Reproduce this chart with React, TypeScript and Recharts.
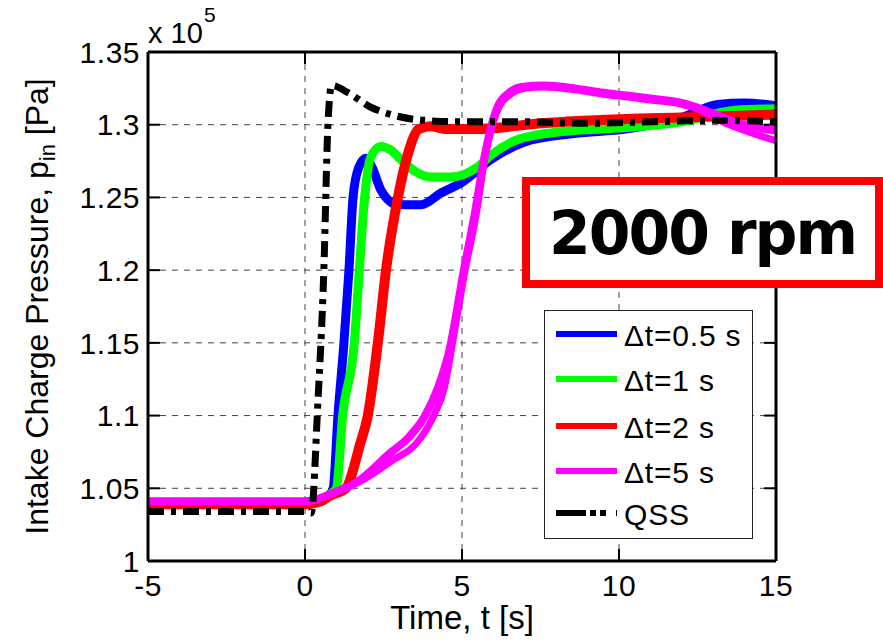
import React from "react";
import { LineChart, Line, XAxis, YAxis, CartesianGrid, ReferenceLine } from "recharts";

// time [s], pressure [x1e5 Pa]
const blueRun: [number, number][] = [
  [-5, 1.039], [-2, 1.039], [0, 1.039], [0.5, 1.041], [0.8, 1.046], [0.9, 1.05], [1.05, 1.1], [1.24, 1.15],
  [1.4, 1.2], [1.53, 1.25], [1.7, 1.27], [1.94, 1.277], [2.15, 1.27], [2.42, 1.255], [2.96, 1.245],
  [3.7, 1.245], [4.33, 1.253], [4.97, 1.26], [5.92, 1.276], [6.97, 1.288], [8.57, 1.294], [10.2, 1.297],
  [11, 1.3], [12, 1.305], [13.15, 1.314], [14, 1.315], [15, 1.313],
];
const greenRun: [number, number][] = [
  [-5, 1.04], [0, 1.04], [0.5, 1.041], [0.8, 1.046], [1.0, 1.05], [1.2, 1.1], [1.57, 1.15], [1.73, 1.2],
  [1.9, 1.25], [2.1, 1.278], [2.42, 1.285], [2.7, 1.283], [3.06, 1.276], [3.5, 1.268], [4.0, 1.264],
  [4.65, 1.264], [5.5, 1.271], [5.92, 1.279], [6.8, 1.29], [8.06, 1.295], [10.2, 1.298], [12, 1.302],
  [13.7, 1.31], [15, 1.311],
];
const redRun: [number, number][] = [
  [-5, 1.039], [0, 1.039], [0.5, 1.041], [0.8, 1.045], [1.3, 1.05], [1.75, 1.08], [2.0, 1.1], [2.32, 1.15],
  [2.58, 1.2], [2.96, 1.25], [3.28, 1.28], [3.63, 1.297], [4.0, 1.299], [4.5, 1.297], [5.5, 1.297],
  [7.5, 1.301], [10.2, 1.304], [12, 1.305], [15, 1.307],
];
const magentaRunA: [number, number][] = [
  [-5, 1.041], [0, 1.041], [0.3, 1.042], [0.8, 1.046], [1.7, 1.055], [2.7, 1.074], [3.3, 1.085],
  [3.8, 1.099], [4.25, 1.12], [4.6, 1.145], [5.06, 1.2], [5.4, 1.238], [5.7, 1.276], [5.92, 1.298],
  [6.15, 1.313], [6.5, 1.322], [6.9, 1.326], [7.6, 1.327], [8.6, 1.325], [9.5, 1.322], [10.3, 1.32],
  [11, 1.318], [12, 1.315], [12.6, 1.311], [13.3, 1.305], [14, 1.3], [15, 1.296],
];
const magentaRunB: [number, number][] = [
  [0.3, 1.042], [0.8, 1.046], [1.7, 1.054], [2.7, 1.068], [3.7, 1.085], [4.1, 1.1], [4.45, 1.12],
  [4.7, 1.15], [5.1, 1.2], [5.45, 1.238], [5.72, 1.276], [5.95, 1.298], [6.2, 1.313], [6.55, 1.321],
  [7.0, 1.325], [7.6, 1.326], [8.6, 1.324], [9.5, 1.321], [10.3, 1.319], [11, 1.317], [12, 1.314],
  [12.6, 1.31], [13.3, 1.302], [14, 1.296], [15, 1.289],
];
const qssRun: [number, number][] = [
  [-5, 1.034], [-2, 1.034], [0, 1.034], [0.2, 1.033], [0.41, 1.109], [0.6, 1.2], [0.73, 1.3],
  [0.85, 1.327], [1.37, 1.322], [2.1, 1.312], [2.74, 1.307], [3.8, 1.303], [5, 1.302], [7, 1.302],
  [9, 1.301], [11, 1.302], [13, 1.303], [15, 1.302],
];

const xTicks = [-5, 0, 5, 10, 15];
const yTicks = [1, 1.05, 1.1, 1.15, 1.2, 1.25, 1.3, 1.35];
const yTickLabels = ["1", "1.05", "1.1", "1.15", "1.2", "1.25", "1.3", "1.35"];

const legendNames = ["\u0394t=0.5 s", "\u0394t=1 s", "\u0394t=2 s", "\u0394t=5 s", "QSS"];
const legendColors = ["#0000ff", "#00ff00", "#ff0000", "#ff00ff", "#000000"];

const toPts = (run: [number, number][]) => run.map(([t, p]) => ({ t, p }));

const FONT = "'Liberation Sans', Arial, sans-serif";
const QSS_DASH = "16 7 5 7";

export default function App() {
  const tickStyle = { fontSize: 30, fill: "#000", fontFamily: FONT, letterSpacing: 0.5 };
  return (
    <div style={{ position: "absolute", left: 0, top: 0, width: 883, height: 640, overflow: "hidden", background: "#fff" }}>
      <LineChart width={883} height={640} margin={{ top: 52, right: 107, bottom: 49, left: 88 }}>
        <CartesianGrid stroke="#444" strokeDasharray="6 6" strokeWidth={1} />
        <XAxis
          type="number"
          dataKey="t"
          domain={[-5, 15]}
          ticks={xTicks}
          allowDataOverflow
          height={30}
          tickLine={false}
          tickMargin={8}
          axisLine={{ stroke: "#000", strokeWidth: 3 }}
          tick={tickStyle}
          label={(props: any) => {
            const vb = props.viewBox || {};
            const cx = (vb.x ?? 148) + (vb.width ?? 628) / 2;
            return (
              <text x={cx} y={629} textAnchor="middle" fontSize={33} fontFamily={FONT} fill="#000">
                Time, t [s]
              </text>
            );
          }}
        />
        <YAxis
          type="number"
          dataKey="p"
          domain={[1, 1.35]}
          ticks={yTicks}
          allowDataOverflow
          width={60}
          tickLine={false}
          tickMargin={2}
          axisLine={{ stroke: "#000", strokeWidth: 3 }}
          tick={tickStyle}
          tickFormatter={(v: number) => yTickLabels[yTicks.findIndex((y) => Math.abs(y - v) < 1e-6)] ?? String(v)}
          label={(props: any) => {
            const vb = props.viewBox || {};
            const cy = (vb.y ?? 52) + (vb.height ?? 509) / 2;
            return (
              <text
                x={48}
                y={cy}
                transform={`rotate(-90 48 ${cy})`}
                textAnchor="middle"
                fontSize={32}
                fontFamily={FONT}
                fill="#000"
              >
                <tspan>Intake Charge Pressure, p</tspan>
                <tspan fontSize={22} dy={7}>in</tspan>
                <tspan dy={-7}> [Pa]</tspan>
              </text>
            );
          }}
        />
        <Line data={toPts(blueRun)} dataKey="p" type="monotone" stroke={legendColors[0]} strokeWidth={9} dot={false} isAnimationActive={false} />
        <Line data={toPts(greenRun)} dataKey="p" type="monotone" stroke={legendColors[1]} strokeWidth={9} dot={false} isAnimationActive={false} />
        <Line data={toPts(redRun)} dataKey="p" type="monotone" stroke={legendColors[2]} strokeWidth={10} dot={false} isAnimationActive={false} />
        <Line data={toPts(magentaRunB)} dataKey="p" type="monotone" stroke={legendColors[3]} strokeWidth={7} dot={false} isAnimationActive={false} />
        <Line data={toPts(magentaRunA)} dataKey="p" type="monotone" stroke={legendColors[3]} strokeWidth={8} dot={false} isAnimationActive={false} />
        <Line data={toPts(qssRun)} dataKey="p" type="monotone" stroke={legendColors[4]} strokeWidth={7} strokeDasharray={QSS_DASH} dot={false} isAnimationActive={false} />
        <ReferenceLine y={1.35} stroke="#000" strokeWidth={3} />
        <ReferenceLine x={15} stroke="#000" strokeWidth={3} />
        {yTicks.slice(1, -1).map((v) => (
          <ReferenceLine key={"yr" + v} segment={[{ x: 14.62, y: v }, { x: 15, y: v }]} stroke="#000" strokeWidth={2} />
        ))}
        {yTicks.slice(1, -1).map((v) => (
          <ReferenceLine key={"yl" + v} segment={[{ x: -5, y: v }, { x: -4.62, y: v }]} stroke="#000" strokeWidth={2} />
        ))}
        {xTicks.slice(1, -1).map((v) => (
          <ReferenceLine key={"xb" + v} segment={[{ x: v, y: 1 }, { x: v, y: 1.0083 }]} stroke="#000" strokeWidth={2} />
        ))}
        {xTicks.slice(1, -1).map((v) => (
          <ReferenceLine key={"xt" + v} segment={[{ x: v, y: 1.3417 }, { x: v, y: 1.35 }]} stroke="#000" strokeWidth={2} />
        ))}
      </LineChart>

      {/* exponent label */}
      <svg width={883} height={640} style={{ position: "absolute", left: 0, top: 0, pointerEvents: "none" }}>
        <text x={148} y={43} fontSize={29} fontFamily={FONT} fill="#000">x 10</text>
        <text x={204} y={22} fontSize={21} fontFamily={FONT} fill="#000">5</text>
      </svg>

      {/* 2000 rpm box */}
      <div
        style={{
          position: "absolute",
          left: 522,
          top: 177,
          width: 361,
          height: 111,
          boxSizing: "border-box",
          border: "8px solid #ff0000",
          background: "#fff",
          display: "flex",
          alignItems: "center",
          justifyContent: "center",
          fontFamily: "'DejaVu Sans', Verdana, sans-serif",
          fontWeight: "bold",
          fontSize: 60,
          letterSpacing: -2,
          color: "#000",
        }}
      >
        2000 rpm
      </div>

      {/* legend */}
      <div
        style={{
          position: "absolute",
          left: 544,
          top: 310,
          width: 209,
          height: 229,
          boxSizing: "border-box",
          border: "1.5px solid #222",
          background: "#fff",
        }}
      >
        <svg width={209} height={229} style={{ position: "absolute", left: -1.5, top: -1.5 }}>
          {legendNames.map((name, i) => {
            const rowY = [28, 73, 120, 165, 207][i];
            return (
              <g key={name}>
                <line
                  x1={12}
                  x2={73}
                  y1={rowY - 4}
                  y2={rowY - 4}
                  stroke={legendColors[i]}
                  strokeWidth={6}
                  strokeDasharray={i === 4 ? "30 4 6 4 6 10" : undefined}
                />
                <text x={80} y={rowY} dy={8} fontSize={30} letterSpacing={0.8} fontFamily={FONT} fill="#000">
                  {name}
                </text>
              </g>
            );
          })}
        </svg>
      </div>
    </div>
  );
}
